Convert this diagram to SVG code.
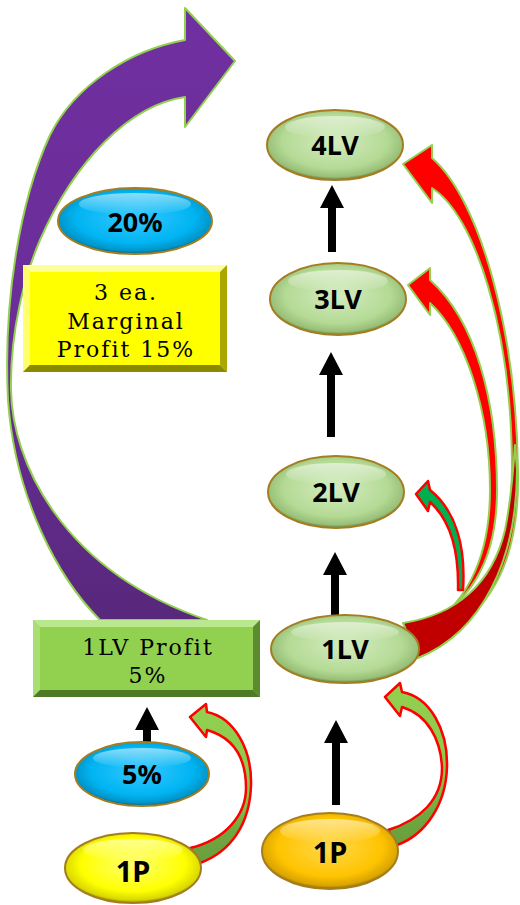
<svg xmlns="http://www.w3.org/2000/svg" width="520" height="905" viewBox="0 0 520 905">
<defs>
<radialGradient id="gGreen" cx="50%" cy="45%" r="55%"><stop offset="0" stop-color="#d4ecbf"/><stop offset="0.7" stop-color="#b4da95"/><stop offset="0.92" stop-color="#98bf78"/><stop offset="1" stop-color="#5f7d40"/></radialGradient>
<radialGradient id="gBlue" cx="50%" cy="45%" r="55%"><stop offset="0" stop-color="#33c8ff"/><stop offset="0.7" stop-color="#00b4f2"/><stop offset="0.92" stop-color="#0094c8"/><stop offset="1" stop-color="#005f85"/></radialGradient>
<radialGradient id="gYellow" cx="50%" cy="45%" r="55%"><stop offset="0" stop-color="#ffff70"/><stop offset="0.7" stop-color="#ffff00"/><stop offset="0.92" stop-color="#d8d800"/><stop offset="1" stop-color="#8f8f00"/></radialGradient>
<radialGradient id="gOrange" cx="50%" cy="45%" r="55%"><stop offset="0" stop-color="#ffd84d"/><stop offset="0.7" stop-color="#ffc400"/><stop offset="0.92" stop-color="#d9a400"/><stop offset="1" stop-color="#8f6a00"/></radialGradient>
<linearGradient id="hl" x1="0" y1="0" x2="0" y2="1"><stop offset="0" stop-color="#fff" stop-opacity="0.55"/><stop offset="1" stop-color="#fff" stop-opacity="0"/></linearGradient>
<linearGradient id="gPurple" x1="0" y1="0" x2="0" y2="1"><stop offset="0" stop-color="#7030a0"/><stop offset="0.55" stop-color="#6a2d98"/><stop offset="1" stop-color="#58287c"/></linearGradient>
<linearGradient id="gLime" x1="0" y1="0" x2="0" y2="1"><stop offset="0" stop-color="#92d050"/><stop offset="0.55" stop-color="#8cc84c"/><stop offset="0.8" stop-color="#70a840"/><stop offset="1" stop-color="#6a9e3c"/></linearGradient>
</defs>
<style>
.node ellipse.body{stroke:#a47d20;stroke-width:2}
.lbl{font-family:"Noto Sans","Open Sans","DejaVu Sans",sans-serif;font-weight:700;font-size:27px;fill:#000;text-anchor:middle}
.btxt{font-family:"DejaVu Serif","Liberation Serif",serif;font-size:22px;fill:#000;text-anchor:middle;letter-spacing:2px}
.blk{fill:#000}
.red{fill:#ff0000;stroke:#92d050;stroke-width:2;stroke-linejoin:round}
</style>

<g id="connectors">
  <path id="purple-arrow" d="M100,620 C60,580 15,500 8,400 C3,300 20,200 50,135 C75,85 130,50 185,40 L185,8 L235,61 L185,127 L185,97 C130,105 75,160 40,240 C25,275 10,330 11,390 C12,460 60,570 207,620 Z" fill="url(#gPurple)" stroke="#92d050" stroke-width="2" stroke-linejoin="round"/>
  <polygon class="blk" points="328,252 336,252 336,208 344,208 332,185 320,208 328,208"/>
  <polygon class="blk" points="327,437 335,437 335,375 343,375 331,352 319,375 327,375"/>
  <polygon class="blk" points="331,615 339,615 339,575 347,575 335,552 323,575 331,575"/>
  <polygon class="blk" points="332,805 340,805 340,743 348,743 336,720 324,743 332,743"/>
  <polygon class="blk" points="143,742 151,742 151,730 159,730 147,707 135,730 143,730"/>
  <path id="red-to-4LV" class="red" d="M420,640 C490,625 520,560 518,470 C516,330 480,200 432,158 L432,145 L403,164 L432,203 L432,188 C475,215 512,330 512,470 C512,560 480,630 420,655 Z"/>
  <path id="red-to-3LV" class="red" d="M415,625 C470,610 497,560 497,490 C497,400 475,320 430,280 L430,268 L408,285 L430,315 L430,303 C465,335 490,410 490,490 C490,560 465,610 415,635 Z"/>
  <path id="red-tail" d="M403,623 C455,615 492,585 505,530 C510,505 513,475 515,445 L517,470 C517,560 482,632 418,658 Z" fill="#c00000" stroke="#92d050" stroke-width="2" stroke-linejoin="round"/>
  <path id="green-to-2LV" d="M463,590 C466,545 455,510 430,490 L428,481 L416,494 L428,511 L430,502 C450,520 459,550 458,590 Z" fill="#00b050" stroke="#ff0000" stroke-width="2.5" stroke-linejoin="round"/>
  <path id="lime-to-1LV" d="M388,830 C420,820 442,800 442,768 C441,740 428,715 402,707 L400,716 L385,697 L400,683 L402,692 C430,697 448,730 447,767 C446,805 425,835 397,845 Z" fill="url(#gLime)" stroke="#ff0000" stroke-width="2.5" stroke-linejoin="round"/>
  <path id="lime-to-box" d="M190,848 C225,840 246,815 246,788 C246,760 235,738 207,730 L206,737 L190,717 L206,704 L207,712 C235,718 252,750 251,785 C250,825 230,852 200,863 Z" fill="url(#gLime)" stroke="#ff0000" stroke-width="2.5" stroke-linejoin="round"/>
</g>

<g id="box-marginal">
  <rect x="23" y="265" width="204" height="107" fill="#ffff00"/>
  <polygon points="23,265 227,265 220,272 30,272" fill="#ffff9a"/>
  <polygon points="23,265 30,272 30,365 23,372" fill="#ffff70"/>
  <polygon points="227,265 227,372 220,365 220,272" fill="#a8a800"/>
  <polygon points="23,372 227,372 220,365 30,365" fill="#8a8a00"/>
  <text class="btxt" x="126" y="300">3 ea.</text>
  <text class="btxt" x="126" y="329">Marginal</text>
  <text class="btxt" x="126" y="357">Profit 15%</text>
</g>

<g id="box-1lv-profit">
  <rect x="33" y="620" width="227" height="77" fill="#92d050"/>
  <polygon points="33,620 260,620 253,627 40,627" fill="#b9e88e"/>
  <polygon points="33,620 40,627 40,690 33,697" fill="#a8df72"/>
  <polygon points="260,620 260,697 253,690 253,627" fill="#5c8a2e"/>
  <polygon points="33,697 260,697 253,690 40,690" fill="#4e7a26"/>
  <text class="btxt" x="148" y="655">1LV Profit</text>
  <text class="btxt" x="148" y="683">5%</text>
</g>

<g id="n20" class="node">
  <ellipse class="body" cx="135" cy="221" rx="77" ry="33" fill="url(#gBlue)"/>
  <ellipse cx="135" cy="204" rx="56" ry="11" fill="url(#hl)"/>
  <text class="lbl" x="135" y="232">20%</text>
</g>
<g id="n4LV" class="node">
  <ellipse class="body" cx="335" cy="145" rx="68" ry="35" fill="url(#gGreen)"/>
  <ellipse cx="335" cy="127" rx="50" ry="11" fill="url(#hl)"/>
  <text class="lbl" x="335" y="155">4LV</text>
</g>
<g id="n3LV" class="node">
  <ellipse class="body" cx="338" cy="299" rx="68" ry="36" fill="url(#gGreen)"/>
  <ellipse cx="338" cy="281" rx="50" ry="11" fill="url(#hl)"/>
  <text class="lbl" x="338" y="309">3LV</text>
</g>
<g id="n2LV" class="node">
  <ellipse class="body" cx="336" cy="492" rx="68" ry="36" fill="url(#gGreen)"/>
  <ellipse cx="336" cy="474" rx="50" ry="11" fill="url(#hl)"/>
  <text class="lbl" x="336" y="502">2LV</text>
</g>
<g id="n1LV" class="node">
  <ellipse class="body" cx="345" cy="649" rx="74" ry="34" fill="url(#gGreen)"/>
  <ellipse cx="345" cy="632" rx="54" ry="10" fill="url(#hl)"/>
  <text class="lbl" x="345" y="659">1LV</text>
</g>
<g id="n5" class="node">
  <ellipse class="body" cx="142" cy="774" rx="67" ry="32" fill="url(#gBlue)"/>
  <ellipse cx="142" cy="758" rx="49" ry="10" fill="url(#hl)"/>
  <text class="lbl" x="142" y="784">5%</text>
</g>
<g id="n1P-orange" class="node">
  <ellipse class="body" cx="330" cy="851" rx="68" ry="38" fill="url(#gOrange)"/>
  <ellipse cx="330" cy="831" rx="50" ry="12" fill="url(#hl)"/>
  <text class="lbl" x="330" y="863" style="font-size:29px">1P</text>
</g>
<g id="n1P-yellow" class="node">
  <ellipse class="body" cx="133" cy="868" rx="68" ry="35" fill="url(#gYellow)"/>
  <ellipse cx="133" cy="850" rx="50" ry="11" fill="url(#hl)"/>
  <text class="lbl" x="133" y="882" style="font-size:29px">1P</text>
</g>
</svg>
